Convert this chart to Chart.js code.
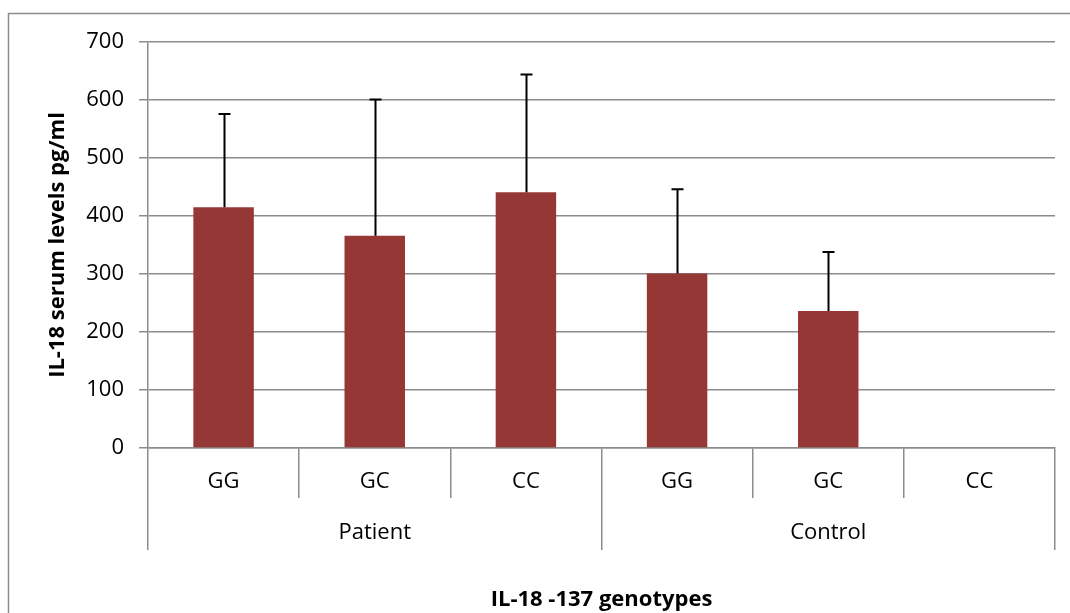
<!DOCTYPE html>
<html>
<head>
<meta charset="utf-8">
<script src="https://cdn.jsdelivr.net/npm/chart.js@4.4.1/dist/chart.umd.min.js"></script>
<style>
  html, body { margin: 0; padding: 0; background: #ffffff; }
  #wrap { width: 1070px; height: 613px; position: relative; }
</style>
</head>
<body>
<div id="wrap"><canvas id="c" width="1070" height="613"></canvas></div>
<script>
// ---- data ----
const genotypes = ['GG', 'GC', 'CC', 'GG', 'GC', 'CC'];
const groups = ['Patient', 'Control'];
const meanLevels = [415, 366, 441, 301, 236, null];
const sdLevels = [161, 235, 203, 145, 102, null];
const yTicks = [0, 100, 200, 300, 400, 500, 600, 700];
const yTitle = 'IL-18 serum levels pg/ml';
const xTitle = 'IL-18 -137 genotypes';

const GRID = '#8c8c8c';
const FONT = '"Open Sans", Lato, sans-serif';

const frame = {
  id: 'frame',
  beforeDraw(chart) {
    const ctx = chart.ctx;
    ctx.save();
    ctx.fillStyle = '#ffffff';
    ctx.fillRect(0, 0, chart.width, chart.height);
    ctx.strokeStyle = GRID;
    ctx.lineWidth = 1.5;
    ctx.strokeRect(8.5, 13.5, 3000, 3000);
    ctx.restore();
  }
};

const errorBars = {
  id: 'errorBars',
  afterDatasetsDraw(chart) {
    const ctx = chart.ctx;
    const meta = chart.getDatasetMeta(0);
    const y = chart.scales.y;
    ctx.save();
    ctx.strokeStyle = '#000000';
    ctx.lineWidth = 2;
    meta.data.forEach((bar, i) => {
      const m = meanLevels[i], s = sdLevels[i];
      if (m == null || s == null) return;
      const x = Math.round(bar.x) + 0.5;
      const yb = y.getPixelForValue(m);
      const yt = y.getPixelForValue(m + s);
      ctx.beginPath();
      ctx.moveTo(x, yb);
      ctx.lineTo(x, yt);
      ctx.moveTo(x - 6, yt);
      ctx.lineTo(x + 6, yt);
      ctx.stroke();
    });
    ctx.restore();
  }
};

new Chart(document.getElementById('c'), {
  type: 'bar',
  data: {
    labels: genotypes,
    datasets: [{
      data: meanLevels,
      backgroundColor: '#953735',
      borderWidth: 0,
      categoryPercentage: 1.0,
      barPercentage: 0.4
    }]
  },
  options: {
    responsive: false,
    animation: false,
    devicePixelRatio: 1,
    layout: { padding: { top: 42, right: 15, bottom: 0, left: 0 } },
    plugins: { legend: { display: false }, tooltip: { enabled: false } },
    scales: {
      y: {
        min: 0, max: 700,
        afterBuildTicks: (s) => { s.ticks = yTicks.map(v => ({ value: v })); },
        afterFit: (s) => { s.width = 148; },
        ticks: { color: '#000', font: { family: FONT, size: 22 }, padding: 15 },
        grid: { color: GRID, lineWidth: 1.5, tickLength: 9 },
        border: { color: GRID, width: 1.5 },
        title: {
          display: true, text: yTitle, color: '#000',
          font: { family: FONT, size: 22, weight: 'bold' },
          padding: { top: 45, bottom: 0 }
        }
      },
      x: {
        position: 'bottom',
        afterFit: (s) => { s.height = 50; },
        ticks: { color: '#000', font: { family: FONT, size: 22 }, padding: -29, maxRotation: 0, autoSkip: false },
        grid: { display: true, drawOnChartArea: false, offset: true, color: GRID, lineWidth: 1.5, tickLength: 50 },
        border: { color: GRID, width: 1.5 }
      },
      x2: {
        type: 'category',
        labels: groups,
        position: 'bottom',
        offset: true,
        afterFit: (s) => { s.height = 115; },
        ticks: { color: '#000', font: { family: FONT, size: 22 }, padding: -30, maxRotation: 0, autoSkip: false },
        grid: { display: true, drawOnChartArea: false, offset: true, color: GRID, lineWidth: 1.5, tickLength: 52 },
        border: { display: false },
        title: {
          display: true, text: xTitle, color: '#000',
          font: { family: FONT, size: 22, weight: 'bold' },
          padding: { top: 0, bottom: 0 }
        }
      }
    }
  },
  plugins: [frame, errorBars]
});
</script>
</body>
</html>
